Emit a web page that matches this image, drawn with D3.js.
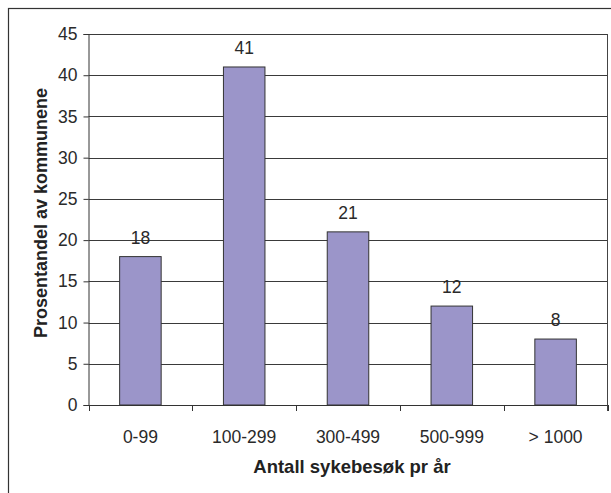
<!DOCTYPE html>
<html>
<head>
<meta charset="utf-8">
<script src="https://cdn.jsdelivr.net/npm/d3@7"></script>
<style>
  body { margin: 0; background: #fff; }
  svg { display: block; font-family: "Liberation Sans", Arial, sans-serif; }
</style>
</head>
<body>
<svg id="chart" width="611" height="493"></svg>
<script>
// Share of municipalities by number of sick visits per year
const categories = ["0-99", "100-299", "300-499", "500-999", "> 1000"];
const values = [18, 41, 21, 12, 8];
const yTicks = [0, 5, 10, 15, 20, 25, 30, 35, 40, 45];

const svg = d3.select("#chart");
const plot = { left: 88.5, right: 607.5, top: 34, bottom: 405 };
const FS = 17.5;

// outer frame
svg.append("rect")
  .attr("x", 8.5).attr("y", 8.5)
  .attr("width", 620).attr("height", 500)
  .attr("fill", "none").attr("stroke", "#333").attr("stroke-width", 1.2);

const x = d3.scaleBand().domain(categories).range([plot.left, plot.right])
  .paddingInner(0.6).paddingOuter(0.3);
const xb = d3.scaleBand().domain(categories).range([plot.left, plot.right]);
const y = d3.scaleLinear().domain([0, 45]).range([plot.bottom, plot.top]);

// gridlines
svg.append("g").selectAll("line").data(yTicks.filter(d => d > 0)).join("line")
  .attr("x1", plot.left).attr("x2", plot.right)
  .attr("y1", d => Math.round(y(d)) + 0.5).attr("y2", d => Math.round(y(d)) + 0.5)
  .attr("stroke", "#3a3a3a").attr("stroke-width", 1);

// right plot edge
svg.append("line")
  .attr("x1", plot.right).attr("x2", plot.right)
  .attr("y1", plot.top).attr("y2", plot.bottom + 6)
  .attr("stroke", "#444");

// y axis
const yAxis = svg.append("g")
  .attr("transform", `translate(${plot.left},0)`)
  .call(d3.axisLeft(y).tickValues(yTicks).tickSize(5).tickPadding(6));
yAxis.select(".domain").attr("stroke", "#333");
yAxis.selectAll(".tick line").attr("stroke", "#333");
yAxis.selectAll("text").attr("font-size", FS).attr("fill", "#2a2a2a")
  .attr("font-family", "Liberation Sans, Arial, sans-serif");

// x axis with ticks between categories
const xAxisG = svg.append("g");
xAxisG.append("line")
  .attr("x1", plot.left).attr("x2", plot.right)
  .attr("y1", plot.bottom + 0.5).attr("y2", plot.bottom + 0.5)
  .attr("stroke", "#333");
const boundaries = categories.map(c => xb(c)).concat([plot.right]);
xAxisG.selectAll(".tk").data(boundaries).join("line")
  .attr("x1", d => Math.round(d) + 0.5).attr("x2", d => Math.round(d) + 0.5)
  .attr("y1", plot.bottom).attr("y2", plot.bottom + 6)
  .attr("stroke", "#333");
xAxisG.selectAll("text").data(categories).join("text")
  .attr("x", d => xb(d) + xb.bandwidth() / 2)
  .attr("y", 443)
  .attr("text-anchor", "middle")
  .attr("font-size", FS).attr("fill", "#2a2a2a")
  .text(d => d);

// bars
svg.append("g").selectAll("rect").data(values).join("rect")
  .attr("x", (d, i) => x(categories[i]))
  .attr("y", d => y(d))
  .attr("width", x.bandwidth())
  .attr("height", d => plot.bottom - y(d))
  .attr("fill", "#9b95c9")
  .attr("stroke", "#333").attr("stroke-width", 1);

// value labels
svg.append("g").selectAll("text").data(values).join("text")
  .attr("x", (d, i) => x(categories[i]) + x.bandwidth() / 2)
  .attr("y", d => y(d) - 13)
  .attr("text-anchor", "middle")
  .attr("font-size", FS).attr("fill", "#2a2a2a")
  .text(d => d);

// axis titles
svg.append("text")
  .attr("x", 352).attr("y", 473)
  .attr("text-anchor", "middle")
  .attr("font-size", 18.5).attr("font-weight", "bold").attr("fill", "#222")
  .text("Antall sykebesøk pr år");

svg.append("text")
  .attr("transform", `translate(47,213) rotate(-90)`)
  .attr("text-anchor", "middle")
  .attr("font-size", 18).attr("font-weight", "bold").attr("fill", "#222")
  .text("Prosentandel av kommunene");
</script>
</body>
</html>
